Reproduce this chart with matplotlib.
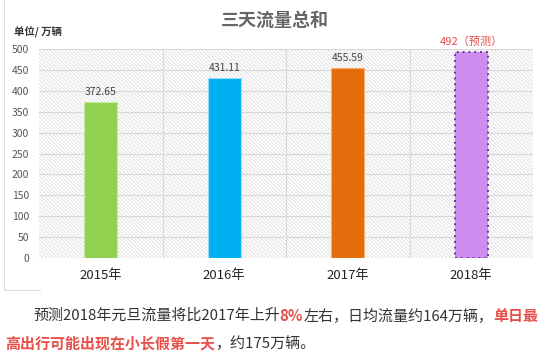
import matplotlib.pyplot as plt
from matplotlib.patches import Rectangle
from matplotlib.lines import Line2D

plt.rcParams['font.family'] = ['Noto Sans CJK SC', 'DejaVu Sans']

# data
years = ["2015年", "2016年", "2017年", "2018年"]
values = [372.65, 431.11, 455.59, 492]
labels = ["372.65", "431.11", "455.59", "492（预测）"]
colors = ["#92d050", "#00b0f0", "#e46c0a", "#cc8cf0"]
yticks = [0, 50, 100, 150, 200, 250, 300, 350, 400, 450, 500]

fig = plt.figure(figsize=(5.5, 3.56), dpi=100)
ax = fig.add_axes([39 / 550, 1 - 258 / 356, 494 / 550, 209 / 356])

# hatched background
plt.rcParams['hatch.linewidth'] = 0.5
ax.add_patch(Rectangle((0, 0), 1, 1, transform=ax.transAxes, facecolor="white",
                       edgecolor="#d6d6d6", hatch="\\" * 9, lw=0, zorder=0))

x = list(range(len(years)))
bars = ax.bar(x, values, width=0.27, color=colors, zorder=3)
bars[0].set_edgecolor("#c8eaa0")
bars[1].set_edgecolor("#9edcf6")
bars[2].set_edgecolor("#f5b070")
for b in bars[:3]:
    b.set_linewidth(0.8)
bars[3].set_edgecolor("#7030a0")
bars[3].set_linestyle((0, (1, 2)))
bars[3].set_linewidth(1.4)

for i, (v, lab) in enumerate(zip(values, labels)):
    c = "#e0504a" if i == 3 else "#444444"
    fs = 8 if i == 3 else 7.5
    ax.text(i, v + 12, lab, ha="center", va="bottom", fontsize=fs, color=c)

ax.set_xlim(-0.5, 3.5)
ax.set_ylim(0, 500)
ax.set_yticks(yticks)
ax.set_yticklabels([str(t) for t in yticks], fontsize=7.5, color="#555555")
ax.set_xticks(x)
ax.set_xticklabels(years, fontsize=9.5, color="#222222")
ax.tick_params(length=0, axis="y", pad=7)
ax.tick_params(length=0, axis="x", pad=8)

for yv in yticks:
    ax.axhline(yv, color="#d8d8d8", lw=0.8, zorder=1)
for xv in [0.5, 1.5, 2.5]:
    ax.axvline(xv, color="#d8d8d8", lw=0.8, zorder=1)
for s in ax.spines.values():
    s.set_visible(False)

fig.text(0.5, 1 - 20 / 356, "三天流量总和", ha="center", va="center",
         fontsize=13, fontweight="bold", color="#666666")
fig.text(14 / 550, 1 - 32 / 356, "单位/ 万辆", ha="left", va="center",
         fontsize=7.5, fontweight="bold", color="#333333")

# outer frame fragment
fig.add_artist(Line2D([4 / 550, 4 / 550], [1 - 290 / 356, 1.0], color="#dddddd", lw=0.8))
fig.add_artist(Line2D([4 / 550, 40 / 550], [1 - 290 / 356, 1 - 290 / 356], color="#dddddd", lw=0.8))

# bottom text with colored parts
red = "#e8504a"
grey = "#333333"
line1 = [("预测2018年元旦流量将比2017年上升", grey, "normal"), ("8%", red, "bold"),
         ("左右，日均流量约164万辆，", grey, "normal"), ("单日最", red, "bold")]
line2 = [("高出行可能出现在小长假第一天", red, "bold"), ("，约175万辆。", grey, "normal")]

renderer = fig.canvas.get_renderer()


def draw_line(parts, x0, y0):
    xp = x0
    for txt, col, w in parts:
        t = fig.text(xp / 550, 1 - y0 / 356, txt, ha="left", va="center",
                     fontsize=10.8, color=col, fontweight=w)
        bb = t.get_window_extent(renderer=renderer)
        xp += bb.width


draw_line(line1, 33, 316)
draw_line(line2, 5, 344)

fig.savefig("out.png", dpi=100)
